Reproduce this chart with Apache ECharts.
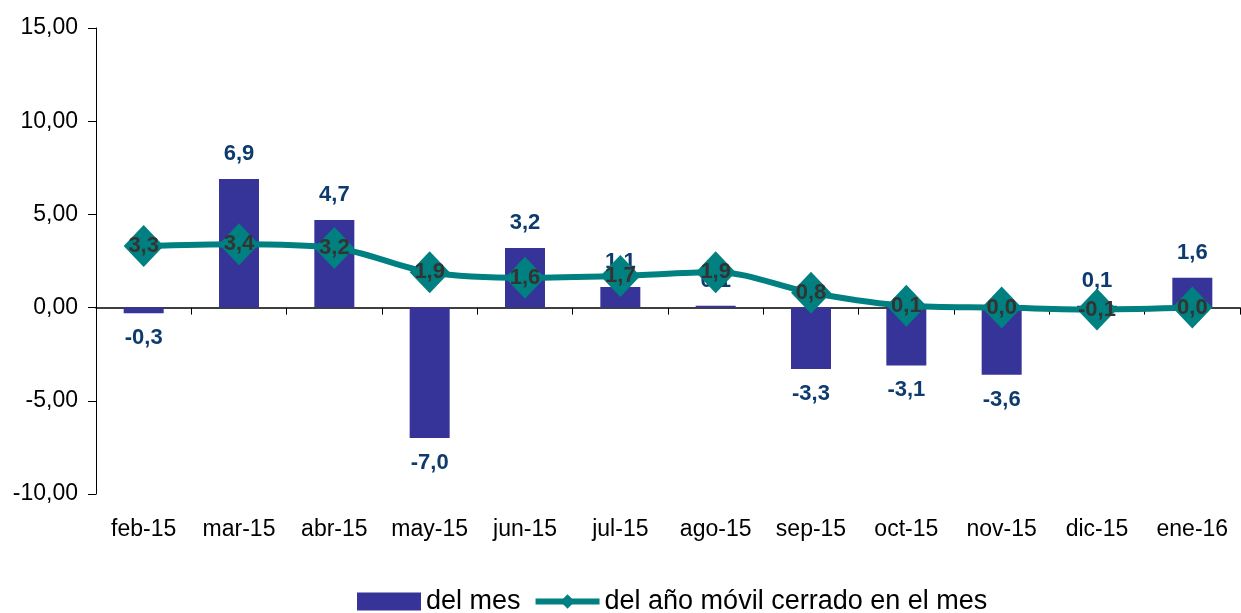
<!DOCTYPE html>
<html><head><meta charset="utf-8">
<script src="https://cdn.jsdelivr.net/npm/echarts@6/dist/echarts.min.js"></script>
<style>html,body{margin:0;padding:0;background:#fff}#c{width:1241px;height:613px}</style>
</head><body><div id="c"></div>
<script>
const categories = ['feb-15','mar-15','abr-15','may-15','jun-15','jul-15','ago-15','sep-15','oct-15','nov-15','dic-15','ene-16'];
const delMes = [-0.3, 6.9, 4.7, -7.0, 3.2, 1.1, 0.1, -3.3, -3.1, -3.6, 0.1, 1.6];
const delAnoMovil = [3.3, 3.4, 3.2, 1.9, 1.6, 1.7, 1.9, 0.8, 0.1, 0.0, -0.1, 0.0];
const yTicks = {min: -10, max: 15, interval: 5};

const fmt1 = v => v.toFixed(1).replace('.', ',');
const FONT = 'Liberation Sans, Arial, sans-serif';

const chart = echarts.init(document.getElementById('c'));
chart.setOption({
  animation: false,
  grid: {left: 96, right: 1, top: 28, bottom: 119, containLabel: false},
  legend: {
    top: 583, left: 352,
    itemGap: 12, itemWidth: 64, itemHeight: 18,
    textStyle: {fontFamily: FONT, fontSize: 27, color: '#000'},
    data: [
      {name: 'del mes', icon: 'rect'},
      {name: 'del año móvil cerrado en el mes', lineStyle: {width: 6, color: '#008080'}}
    ]
  },
  xAxis: [
    {type: 'category', data: categories, position: 'bottom',
     axisLine: {onZero: true, lineStyle: {color: '#000', width: 1.5}},
     axisTick: {show: true, length: 7, lineStyle: {color: '#000'}},
     axisLabel: {show: false}},
    {type: 'category', data: categories, position: 'bottom',
     axisLine: {show: false, onZero: false}, axisTick: {show: false},
     axisLabel: {interval: 0, margin: 24, fontFamily: FONT, fontSize: 23, color: '#000'}}
  ],
  yAxis: {
    type: 'value', min: yTicks.min, max: yTicks.max, interval: yTicks.interval,
    splitLine: {show: false},
    axisLine: {show: true, lineStyle: {color: '#000', width: 1}},
    axisTick: {show: true, length: 8, lineStyle: {color: '#000'}},
    axisLabel: {margin: 18, fontFamily: FONT, fontSize: 23, color: '#000',
      formatter: v => v.toFixed(2).replace('.', ',')}
  },
  series: [
    {name: 'del mes', type: 'bar', barWidth: 40, xAxisIndex: 0,
     itemStyle: {color: '#363399'},
     data: delMes.map(v => ({value: v, label: {position: v < 0 ? 'bottom' : 'top'}})),
     label: {show: true, distance: 14, fontFamily: FONT, fontSize: 22, fontWeight: 'bold',
       color: '#0d3b6e', formatter: p => fmt1(p.value)}
    },
    {name: 'del año móvil cerrado en el mes', type: 'line', xAxisIndex: 0,
     smooth: 0.35, symbol: 'diamond', symbolSize: [40, 42],
     lineStyle: {color: '#008080', width: 6},
     itemStyle: {color: '#008080'},
     data: delAnoMovil,
     label: {show: true, position: 'inside', fontFamily: FONT, fontSize: 22, fontWeight: 'bold',
       color: '#333333', formatter: p => fmt1(p.value)},
     z: 3
    }
  ]
});
</script></body></html>
